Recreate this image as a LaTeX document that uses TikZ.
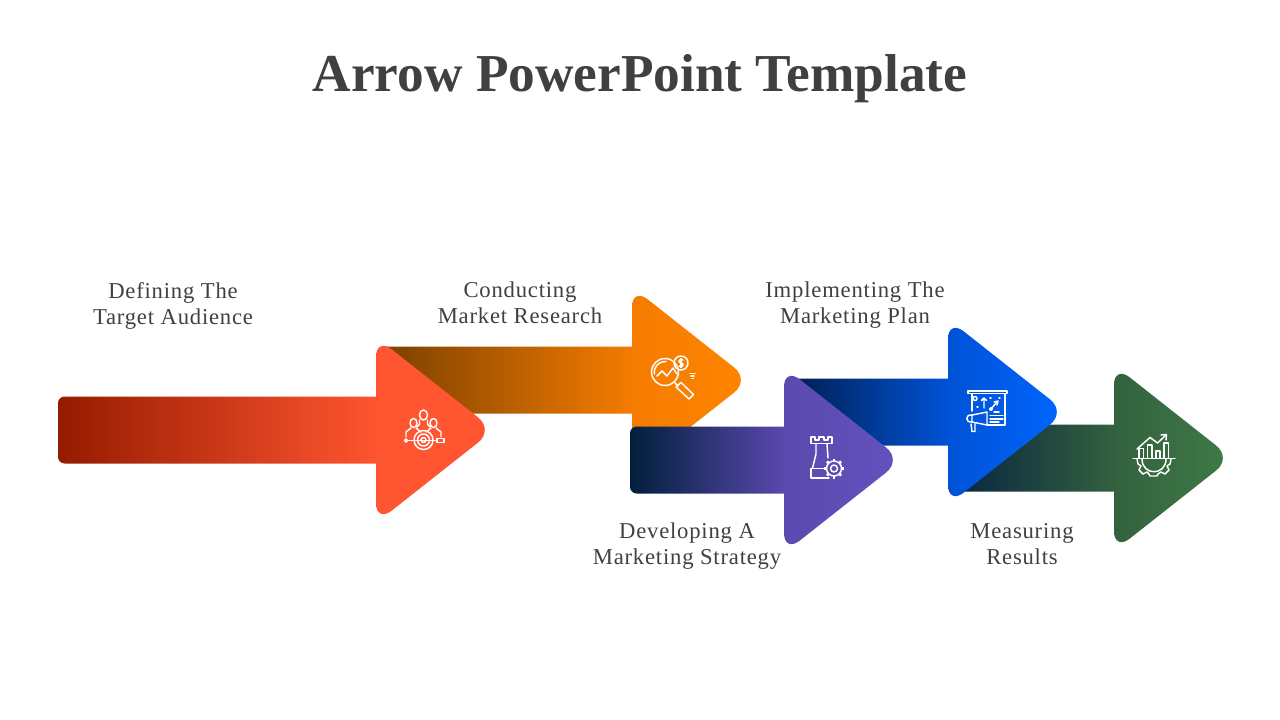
\documentclass[tikz,border=0pt]{standalone}
\usepackage{fontspec}
\usetikzlibrary{calc}
\setmainfont{Liberation Serif}
\newfontfamily\labelfont[LetterSpace=3.5]{Liberation Serif}
\definecolor{inkgrey}{HTML}{404040}
\definecolor{redstart}{HTML}{951B00}
\definecolor{redhead}{HTML}{FF5530}
\definecolor{orangestart}{HTML}{7A4000}
\definecolor{orangemid}{HTML}{F57C00}
\definecolor{orangehead}{HTML}{FF8400}
\definecolor{violetstart}{HTML}{021F3C}
\definecolor{violetmid}{HTML}{5A49AE}
\definecolor{violethead}{HTML}{6453BE}
\definecolor{bluestart}{HTML}{001F4F}
\definecolor{bluemid}{HTML}{0052D6}
\definecolor{bluehead}{HTML}{0066FF}
\definecolor{greenstart}{HTML}{0A2540}
\definecolor{greenmid}{HTML}{33613F}
\definecolor{greenhead}{HTML}{3F7B46}
\tikzstyle{steplabel} = [
    text=inkgrey,
    align=center,
    inner sep=0pt,
    execute at begin node=\strut,
    execute at end node=\strut,
    font=\labelfont\fontsize{17}{19.5}\selectfont
    ]
\tikzstyle{titlelabel} = [
    text=inkgrey,
    inner sep=0pt,
    anchor=base,
    font=\bfseries\fontsize{40}{46}\selectfont
    ]
\tikzstyle{iconline} = [
    draw=white,
    line width=1.1pt,
    line join=round,
    line cap=round
    ]
% tail x, centre y, head base x, then the three colours
\newcommand{\arrowblock}[6]{%
  \path[shade, left color=#4, right color=#5]
    (#3+1,#2-33.5) [rounded corners=5pt] -- (#1,#2-33.5) -- (#1,#2+33.5) [sharp corners] -- (#3+1,#2+33.5) -- cycle;
  \path[shade, left color=#5, right color=#6, rounded corners=15pt]
    (#3,#2-93) -- (#3+118,#2) -- (#3,#2+93) -- cycle;
}
\begin{document}
\begin{tikzpicture}[x=0.75pt,y=-0.75pt]
\useasboundingbox (0,0) rectangle (1280,720);

\node[titlelabel] (title) at (640,92) {Arrow PowerPoint Template};

\arrowblock{380}{380}{632}{orangestart}{orangemid}{orangehead}
\arrowblock{58}{430}{376}{redstart}{redhead}{redhead}
\arrowblock{955}{458}{1114}{greenstart}{greenmid}{greenhead}
\arrowblock{790}{412}{948}{bluestart}{bluemid}{bluehead}
\arrowblock{630}{460}{784}{violetstart}{violetmid}{violethead}

\node[steplabel] (audience) at (173,307) {Defining The\\Target Audience};
\node[steplabel] (research) at (520,307) {Conducting\\Market Research};
\node[steplabel] (strategy) at (687,548) {Developing A\\Marketing Strategy};
\node[steplabel] (plan) at (855,307) {Implementing The\\Marketing Plan};
\node[steplabel] (results) at (1022,548) {Measuring\\Results};

% target audience
\begin{scope}[iconline]
\draw (423.5,415) ellipse [x radius=4, y radius=5];
\draw (413.5,423) ellipse [x radius=3.5, y radius=4.5];
\draw (433.5,423) ellipse [x radius=3.5, y radius=4.5];
\draw (419.5,420) -- (419.5,424) -- (417,427);
\draw (427.5,420) -- (427.5,424) -- (430,427);
\draw (406,437) -- (406,432) -- (411,428) (416,428) -- (421,432);
\draw (441,437) -- (441,432) -- (436,428) (431,428) -- (426,432);
\draw (423.5,440) circle [radius=9.5];
\draw (423.5,440) circle [radius=6];
\draw (423.5,440) circle [radius=2.5];
\draw (408,440.5) -- (437,440.5);
\draw (406,440.5) circle [radius=1.7];
\draw (437,438.5) rectangle (444,442.5);
\end{scope}

% market research
\begin{scope}[iconline]
\draw (665,372) circle [radius=13.5];
\draw (654.5,374) .. controls (653,366) and (660,361) .. (666,361.5);
\draw (681,363) circle [radius=7];
\draw (683,360) .. controls (678,358.5) and (678,363) .. (681,363) .. controls (684,363) and (684,367.5) .. (679,366);
\draw (681,358.5) -- (681,367.5);
\draw (657,376) -- (662,371) -- (667,376) -- (673,368) -- (677,374);
\draw (690,373.5) -- (695,373.5) (691,376) -- (694,376) (692,378.5) -- (693.5,378.5);
\draw (675,383) -- (678,386);
\draw (676,387) -- (681,382.5) -- (693.5,394.5) -- (689,399) -- cycle;
\end{scope}

% marketing strategy
\begin{scope}[iconline]
\draw (811,443.5) -- (811,437) -- (815,437) -- (815,440) -- (819,440) -- (819,437) -- (824,437) -- (824,440) -- (828,440) -- (828,437) -- (832,437) -- (832,443.5) -- cycle;
\draw (816,444) -- (816,454) -- (812.5,468) (827,444) -- (828,458);
\draw (811,468.5) -- (825,468.5) (811,468.5) -- (811,478) -- (829,478);
\draw (834,468.5) circle [radius=3.5];
\draw (834,468.5) circle [radius=7.5];
\foreach \ang in {0,45,...,315}
  \draw[line width=2pt, line cap=butt] ($(834,468.5)+(\ang:7.5)$) -- ($(834,468.5)+(\ang:10)$);
\end{scope}

% marketing plan
\begin{scope}[iconline]
\draw (968,391) -- (1007,391) -- (1007,393.5) -- (968,393.5) -- cycle;
\draw (972,394) -- (972,411) (1005,394) -- (1005,425) -- (987,425);
\draw (975,398.5) circle [radius=2];
\draw (984,408) -- (984,398) -- (986.5,400.5) (984,398) -- (981.5,400.5);
\draw (990,398) -- (991,398) (999,398) -- (1000,398) (977,407) -- (978,407);
\draw (990,410) -- (997,402);
\draw (991,409) circle [radius=1.3];
\draw (994,402) -- (998,401) -- (997,405);
\draw (994,412) -- (999,412) (990,415.5) -- (1003,415.5) (990,419) -- (1003,419) (990,422) -- (999,422);
\draw (972,415) -- (987,412) -- (987,425) -- (972,422) -- cycle;
\draw (972,415) .. controls (965,414) and (965,423) .. (972,422);
\draw (971,424) -- (972,431.5) -- (975,431.5) -- (975,423.5);
\end{scope}

% measuring results
\begin{scope}[iconline]
\draw (1133,458.5) -- (1175,458.5);
\draw (1139,458) -- (1139,448.5) -- (1143.5,448.5) -- (1143.5,458);
\draw (1147.5,458) -- (1147.5,445) -- (1152,445) -- (1152,458);
\draw (1156,458) -- (1156,451) -- (1160,451) -- (1160,458);
\draw (1164,458) -- (1164,443) -- (1168.5,443) -- (1168.5,458);
\draw (1137,449) -- (1150,437.5) -- (1157.5,443) -- (1166,435);
\draw (1161,435) -- (1166.5,434.5) -- (1166,440);
\draw (1142,459) .. controls (1142,476) and (1166,476) .. (1166,459);
\draw (1137,459) -- (1138,464) -- (1141,466) -- (1139,470) -- (1143,474) -- (1147,472) -- (1149,474) -- (1150,476) -- (1157,476) -- (1158,474) -- (1161,472) -- (1165,474) -- (1169,470) -- (1167,466) -- (1170,464) -- (1171,459);
\end{scope}
\end{tikzpicture}
\end{document}
